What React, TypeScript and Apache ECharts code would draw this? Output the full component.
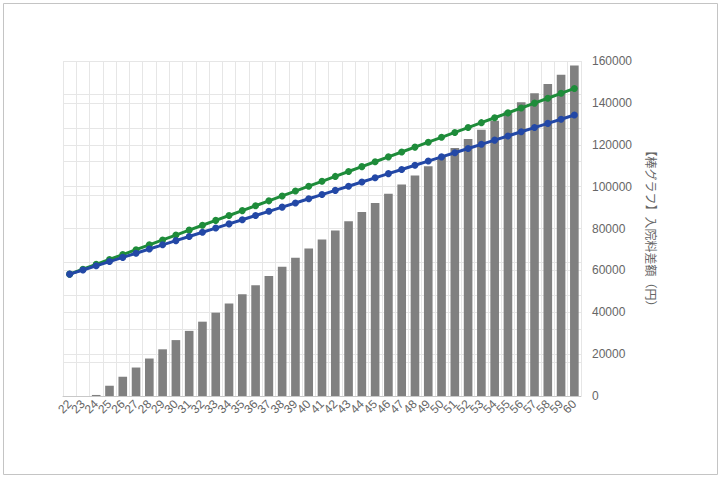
import React, { useEffect, useRef } from "react";
import * as echarts from "echarts";

const ages = ["22","23","24","25","26","27","28","29","30","31","32","33","34","35","36","37","38","39","40","41","42","43","44","45","46","47","48","49","50","51","52","53","54","55","56","57","58","59","60"];

const barValues = [0, 0, 500, 4900, 9200, 13600, 17900, 22300, 26700, 31100, 35500, 39800, 44200, 48600, 52900, 57300, 61700, 66000, 70400, 74800, 79100, 83500, 87900, 92200, 96600, 101000, 105300, 109700, 114100, 118400, 122800, 127200, 131500, 135900, 140300, 144600, 149000, 153400, 157800];

const blueValues = [58200, 60200, 62200, 64200, 66200, 68200, 70200, 72200, 74200, 76200, 78200, 80200, 82200, 84200, 86200, 88200, 90200, 92200, 94200, 96200, 98200, 100200, 102200, 104200, 106200, 108200, 110200, 112200, 114200, 116200, 118200, 120200, 122200, 124200, 126200, 128200, 130200, 132200, 134200];

const greenValues = [58200, 60530, 62870, 65200, 67540, 69870, 72200, 74540, 76870, 79210, 81540, 83870, 86210, 88540, 90880, 93210, 95540, 97880, 100210, 102550, 104880, 107210, 109550, 111880, 114220, 116550, 118880, 121220, 123550, 125890, 128220, 130550, 132890, 135220, 137560, 139890, 142220, 144560, 146900];

const rightTicks = { min: 0, max: 160000, interval: 20000 };
const axisName = "【棒グラフ】入院料差額（円）";

export default function App() {
  const ref = useRef<HTMLDivElement>(null);
  useEffect(() => {
    document.body.style.margin = "0";
    const chart = echarts.init(ref.current!, null, { renderer: "svg" });
    chart.setOption({
      animation: false,
      backgroundColor: "#ffffff",
      textStyle: { fontFamily: "'Liberation Sans', Arial, 'Noto Sans CJK JP', sans-serif" },
      graphic: [
        {
          type: "rect",
          shape: { x: 3.5, y: 3.5, width: 714, height: 471 },
          style: { fill: "none", stroke: "#c4c4c4", lineWidth: 1 },
          silent: true,
          z: -10,
        },
      ],
      grid: { left: 63, right: 141, top: 61, bottom: 84, containLabel: false },
      xAxis: {
        type: "category",
        data: ages,
        boundaryGap: true,
        axisLine: { show: true, lineStyle: { color: "#c8c8c8" } },
        axisTick: { show: false },
        splitLine: { show: true, interval: 0, lineStyle: { color: "#e6e6e6" } },
        axisLabel: { interval: 0, rotate: 45, color: "#666666", fontSize: 12, margin: 6 },
      },
      yAxis: [
        {
          type: "value",
          position: "left",
          min: 0,
          max: 10,
          interval: 1,
          axisLabel: { show: false },
          axisLine: { show: false },
          axisTick: { show: false },
          splitLine: { show: true, lineStyle: { color: "#e6e6e6" } },
        },
        {
          type: "value",
          position: "right",
          min: rightTicks.min,
          max: rightTicks.max,
          interval: rightTicks.interval,
          name: axisName,
          nameLocation: "middle",
          nameRotate: -90,
          nameGap: 64,
          nameTextStyle: { color: "#666666", fontSize: 12, fontFamily: "'Noto Sans CJK JP', sans-serif" },
          axisLabel: { color: "#666666", fontSize: 12, margin: 11, formatter: (v: number) => String(v) },
          axisLine: { show: false },
          axisTick: { show: false },
          splitLine: { show: true, lineStyle: { color: "#e6e6e6" } },
        },
      ],
      series: [
        {
          type: "bar",
          yAxisIndex: 1,
          data: barValues,
          barWidth: "65%",
          itemStyle: { color: "#808080" },
          z: 2,
        },
        {
          type: "line",
          yAxisIndex: 1,
          data: greenValues,
          symbol: "circle",
          symbolSize: 7,
          lineStyle: { color: "#1e8c3a", width: 3 },
          itemStyle: { color: "#1e8c3a" },
          z: 3,
        },
        {
          type: "line",
          yAxisIndex: 1,
          data: blueValues,
          symbol: "circle",
          symbolSize: 7,
          lineStyle: { color: "#2348a6", width: 3 },
          itemStyle: { color: "#2348a6" },
          z: 4,
        },
      ],
    });
    return () => chart.dispose();
  }, []);
  return <div ref={ref} style={{ width: 722, height: 480 }} />;
}
